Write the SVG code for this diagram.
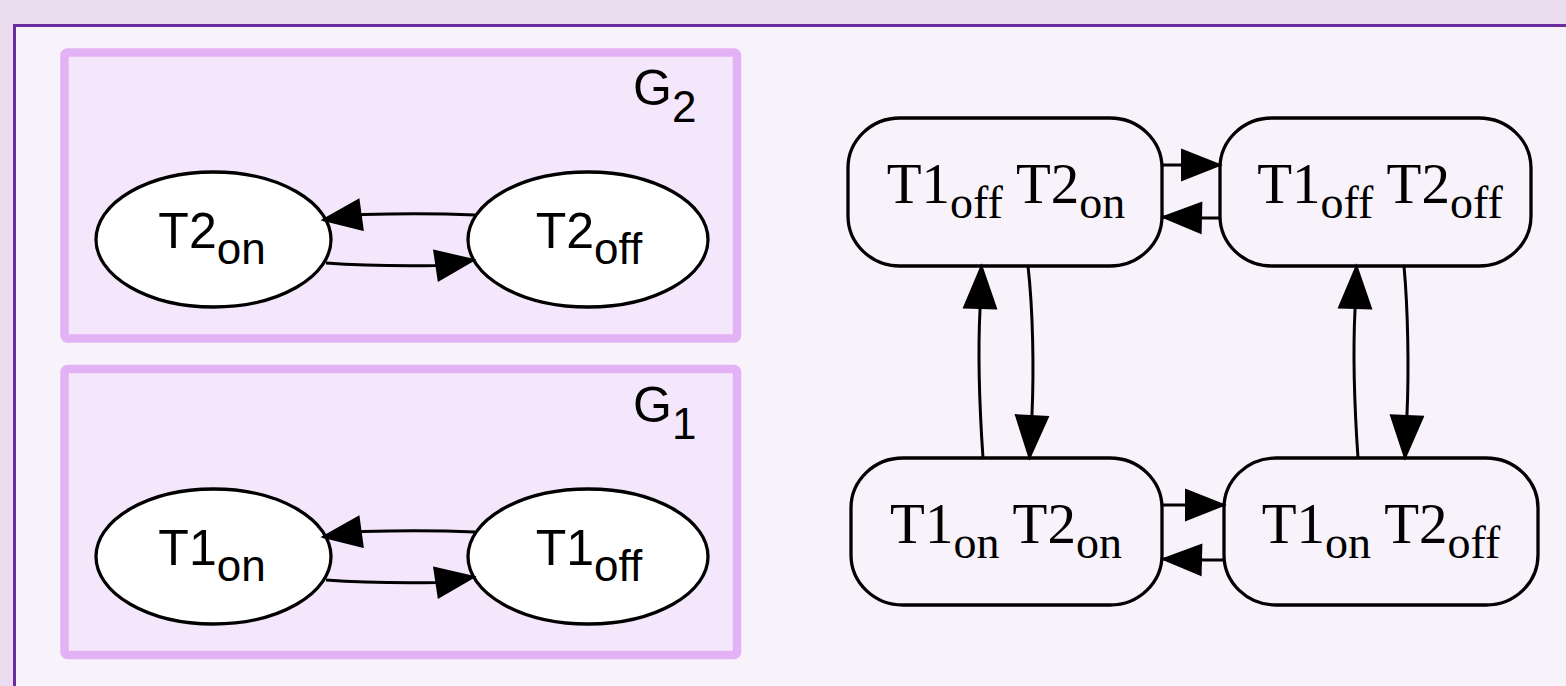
<svg xmlns="http://www.w3.org/2000/svg" width="1566" height="686" viewBox="0 0 1566 686">
  <defs>
    <marker id="arrow" markerUnits="userSpaceOnUse" viewBox="0 0 40 32" refX="39" refY="16" markerWidth="40" markerHeight="32" orient="auto" overflow="visible">
      <path d="M1,1 L39,16 L1,31 Z" fill="#000" stroke="#000" stroke-width="2" stroke-linejoin="miter"/>
    </marker>
    <marker id="arrow-lg" markerUnits="userSpaceOnUse" viewBox="0 0 44 34" refX="43" refY="17" markerWidth="44" markerHeight="34" orient="auto" overflow="visible">
      <path d="M1,1 L43,17 L1,33 Z" fill="#000" stroke="#000" stroke-width="2" stroke-linejoin="miter"/>
    </marker>
    <style>
      .frame { fill: #f8f3fa; stroke: #6a2c9f; stroke-width: 3; }
      .cluster { fill: #f5e7fb; stroke: #e3b2f4; stroke-width: 8.5; }
      .cl-label { font-family: "Liberation Sans", Arial, sans-serif; font-size: 50px; fill: #000; }
      .state { fill: #fff; stroke: #000; stroke-width: 3.3; }
      .combo { fill: none; stroke: #000; stroke-width: 3.3; }
      .sans { font-family: "Liberation Sans", Arial, sans-serif; font-size: 50px; fill: #000; text-anchor: middle; }
      .serif { font-family: "Liberation Serif", "Times New Roman", serif; font-size: 57px; fill: #000; text-anchor: middle; }
      .edge { fill: none; stroke: #000; stroke-width: 3; marker-end: url(#arrow); }
      .edge.v { marker-end: url(#arrow-lg); }
    </style>
  </defs>

  <!-- page background and framed panel -->
  <rect x="0" y="0" width="1566" height="686" fill="#ebdcef"/>
  <rect class="frame" x="14.5" y="25.5" width="1600" height="700"/>

  <!-- component automaton G2 -->
  <g id="cluster-G2">
    <rect class="cluster" x="64.5" y="52.5" width="672.5" height="286" rx="3"/>
    <text class="cl-label" x="633" y="105">G<tspan dy="17" font-size="44">2</tspan></text>
  </g>
  <g id="T2on">
    <ellipse class="state" cx="213.5" cy="239.5" rx="117.5" ry="67.5"/>
    <text class="sans" x="212" y="248">T2<tspan dy="16" font-size="44">on</tspan></text>
  </g>
  <g id="T2off">
    <ellipse class="state" cx="588" cy="239.5" rx="120" ry="67.5"/>
    <text class="sans" x="589" y="248">T2<tspan dy="16" font-size="44">off</tspan></text>
  </g>

  <!-- component automaton G1 -->
  <g id="cluster-G1">
    <rect class="cluster" x="64.5" y="369" width="672.5" height="286" rx="3"/>
    <text class="cl-label" x="633" y="422">G<tspan dy="17" font-size="44">1</tspan></text>
  </g>
  <g id="T1on">
    <ellipse class="state" cx="213.5" cy="556.5" rx="117.5" ry="67.5"/>
    <text class="sans" x="212" y="565">T1<tspan dy="16" font-size="44">on</tspan></text>
  </g>
  <g id="T1off">
    <ellipse class="state" cx="588" cy="556.5" rx="120" ry="67.5"/>
    <text class="sans" x="589" y="565">T1<tspan dy="16" font-size="44">off</tspan></text>
  </g>

  <!-- product automaton states -->
  <g id="T1off_T2on">
    <rect class="combo" x="848" y="118" width="314" height="148" rx="52" ry="50"/>
    <text class="serif" x="1006" y="203">T1<tspan dy="15" font-size="46">off</tspan><tspan dy="-15"> T2</tspan><tspan dy="15" font-size="46">on</tspan></text>
  </g>
  <g id="T1off_T2off">
    <rect class="combo" x="1220" y="118" width="311" height="148" rx="52" ry="50"/>
    <text class="serif" x="1380" y="203">T1<tspan dy="15" font-size="46">off</tspan><tspan dy="-15"> T2</tspan><tspan dy="15" font-size="46">off</tspan></text>
  </g>
  <g id="T1on_T2on">
    <rect class="combo" x="851" y="458" width="311" height="147" rx="52" ry="50"/>
    <text class="serif" x="1006" y="543">T1<tspan dy="15" font-size="46">on</tspan><tspan dy="-15"> T2</tspan><tspan dy="15" font-size="46">on</tspan></text>
  </g>
  <g id="T1on_T2off">
    <rect class="combo" x="1224" y="458" width="314" height="147" rx="52" ry="50"/>
    <text class="serif" x="1381" y="543">T1<tspan dy="15" font-size="46">on</tspan><tspan dy="-15"> T2</tspan><tspan dy="15" font-size="46">off</tspan></text>
  </g>

  <!-- transitions -->
  <g id="edges">
    <!-- G2 -->
    <path class="edge" d="M475,215 C440,213.5 400,213.5 363,214.5 L323,220"/>
    <path class="edge" d="M326,263 C360,265.5 400,266 437,265.5 L474,260"/>
    <!-- G1 -->
    <path class="edge" d="M475,532 C440,530.5 400,530.5 363,531.5 L323,537"/>
    <path class="edge" d="M326,580 C360,582.5 400,583 437,582.5 L474,577"/>
    <!-- product: horizontal -->
    <path class="edge" d="M1162,165 L1180,165 L1220,165"/>
    <path class="edge" d="M1220,218 L1204,218 L1163,217"/>
    <path class="edge" d="M1162,505 L1182,505 L1224,505"/>
    <path class="edge" d="M1224,560 L1205,560 L1163,559"/>
    <!-- product: vertical -->
    <path class="edge v" d="M983,458 C979,400 978,350 980,310 L981.5,266"/>
    <path class="edge v" d="M1028,266 C1033,310 1034,370 1032,414 L1029.5,458"/>
    <path class="edge v" d="M1358,458 C1354,400 1353,350 1355,310 L1356.5,266"/>
    <path class="edge v" d="M1404,266 C1408,310 1409,370 1407,414 L1405,458"/>
  </g>
</svg>
